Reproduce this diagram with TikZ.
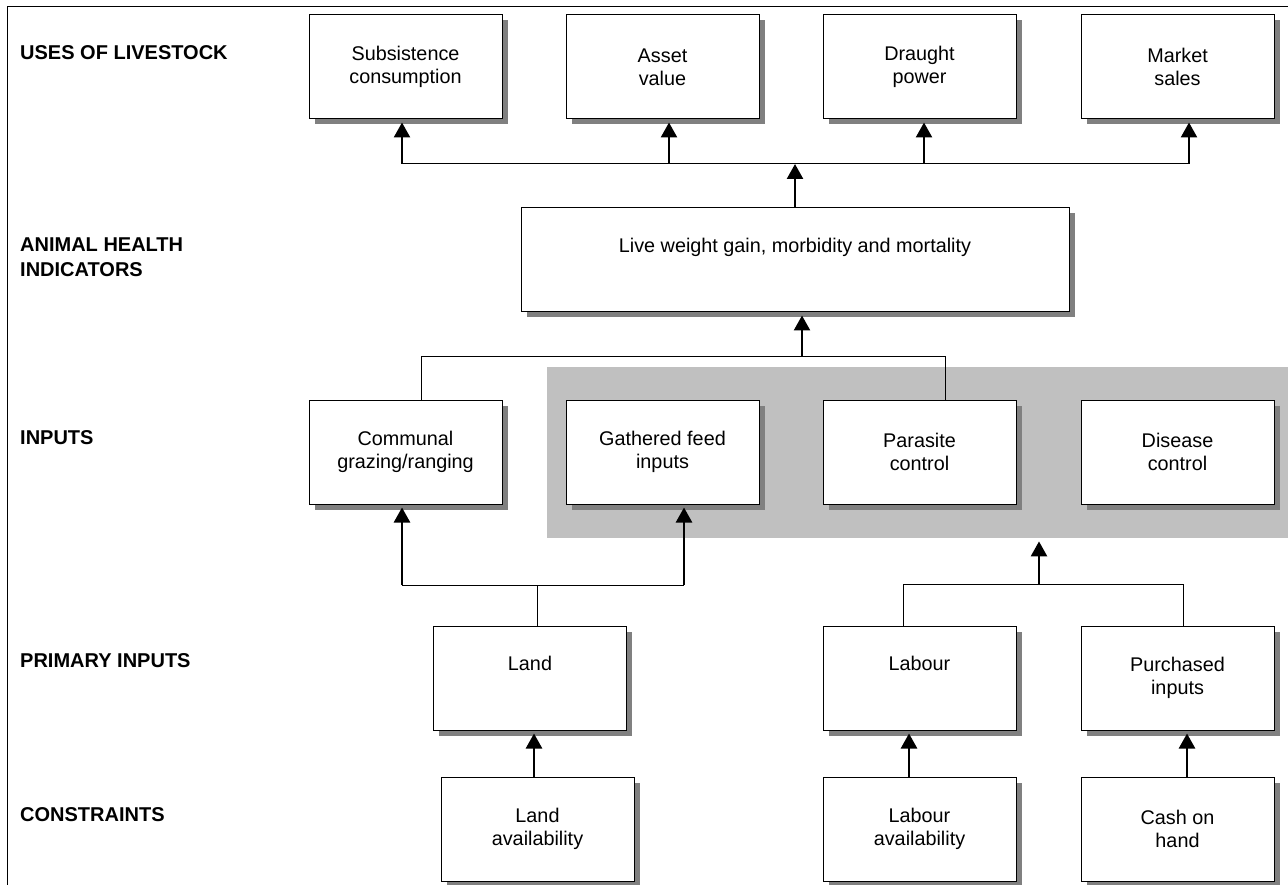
\documentclass[tikz,border=0pt]{standalone}
\usepackage{fontspec}
\setmainfont{Liberation Sans}
\usetikzlibrary{arrows.meta,shadows}
\definecolor{shadowgray}{HTML}{808080}
\definecolor{panelgray}{HTML}{C0C0C0}
\begin{document}
\begin{tikzpicture}[x=1pt,y=-1pt,
  box/.style={draw=black, line width=1pt, fill=white, minimum width=193pt, minimum height=104pt,
    align=center, inner sep=0pt, font=\fontsize{19.8}{23}\selectfont,
    drop shadow={shadow xshift=5.5pt, shadow yshift=-5.5pt, fill=shadowgray, opacity=1}},
  lab/.style={anchor=west, align=left, inner sep=0pt, font=\fontsize{20}{25}\selectfont\bfseries},
  bus/.style={line width=1pt},
  arr/.style={line width=2.5pt, -{Triangle[width=16pt,length=15pt]}, shorten >=3pt}]
\useasboundingbox (0,0) rectangle (1288,885);
% frame
\draw[line width=1pt] (7,885) -- (7,7) -- (1288,7);
% grey panel
\node[fill=panelgray, minimum width=741pt, minimum height=171pt, inner sep=0pt, anchor=north west] (panel) at (547,367) {};
% labels
\node[lab] (l1) at (20,53) {USES OF LIVESTOCK};
\node[lab] (l2) at (20,257) {ANIMAL HEALTH\\INDICATORS};
\node[lab] (l3) at (20,438) {INPUTS};
\node[lab] (l4) at (20,661) {PRIMARY INPUTS};
\node[lab] (l5) at (20,815) {CONSTRAINTS};
% row 1
\node[box] (sub) at (405.5,67) {Subsistence\\consumption};
\node[box] (ass) at (662.5,67) {Asset\\value};
\node[box] (dra) at (919.5,67) {Draught\\power};
\node[box] (mar) at (1177.5,67) {Market\\sales};
% row 2
\node[box, minimum width=548pt] (lw) at (795,260) {Live weight gain, morbidity and mortality\\\strut};
% row 3
\node[box] (com) at (405.5,452) {Communal\\grazing/ranging};
\node[box] (gat) at (662.5,452) {Gathered feed\\inputs};
\node[box] (par) at (919.5,452) {Parasite\\control};
\node[box] (dis) at (1177.5,452) {Disease\\control};
% row 4
\node[box] (land) at (530,678) {Land\\\strut};
\node[box] (lab) at (919.5,678) {Labour\\\strut};
\node[box] (pur) at (1177.5,678) {Purchased\\inputs};
% row 5
\node[box] (la) at (537.5,829) {Land\\availability};
\node[box] (laa) at (919.5,829) {Labour\\availability};
\node[box] (cash) at (1177.5,829) {Cash on\\hand};
% top bus
\coordinate (t1) at (402,164);
\coordinate (t2) at (669,164);
\coordinate (t3) at (924,164);
\coordinate (t4) at (1189,164);
\draw[bus] (t1) -- (t4);
\draw[arr] (t1) -- (t1 |- sub.south);
\draw[arr] (t2) -- (t2 |- ass.south);
\draw[arr] (t3) -- (t3 |- dra.south);
\draw[arr] (t4) -- (t4 |- mar.south);
\draw[arr, shorten >=0pt] (lw.north) -- (lw.north |- t1);
% inputs bus
\coordinate (i1) at (421,356);
\coordinate (i2) at (945,356);
\coordinate (i3) at (802,356);
\draw[bus] (i1 |- com.north) -- (i1) -- (i2) -- (i2 |- par.north);
\draw[arr] (i3) -- (i3 |- lw.south);
% land bus
\coordinate (p1) at (402,585);
\coordinate (p2) at (684,585);
\coordinate (p3) at (537,585);
\draw[bus] (p1) -- (p2);
\draw[bus] (p3 |- land.north) -- (p3);
\draw[arr] (p1) -- (p1 |- com.south);
\draw[arr] (p2) -- (p2 |- gat.south);
% labour / purchased bus
\coordinate (r1) at (903,584);
\coordinate (r2) at (1183,584);
\coordinate (r3) at (1039,584);
\draw[bus] (r1 |- lab.north) -- (r1) -- (r2) -- (r2 |- pur.north);
\draw[arr] (r3) -- (r3 |- panel.south);
% constraints
\coordinate (x1) at (534,0);
\coordinate (x2) at (909,0);
\coordinate (x3) at (1187,0);
\draw[arr] (la.north -| x1) -- (land.south -| x1);
\draw[arr] (laa.north -| x2) -- (lab.south -| x2);
\draw[arr] (cash.north -| x3) -- (pur.south -| x3);
\end{tikzpicture}
\end{document}
